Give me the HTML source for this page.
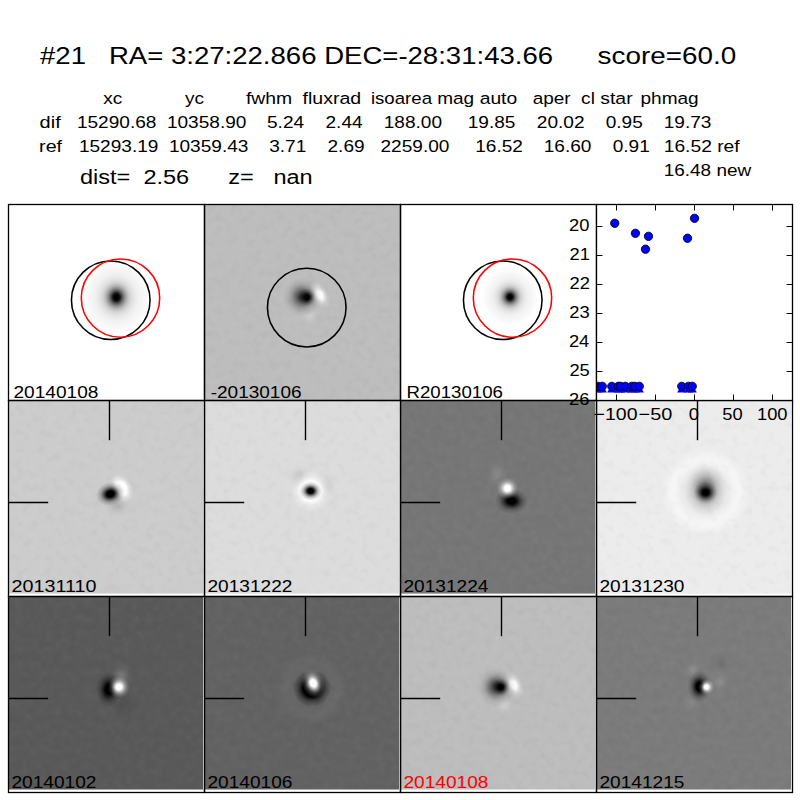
<!DOCTYPE html>
<html><head><meta charset="utf-8"><title>candidate 21</title><style>html,body{margin:0;padding:0;background:#fff;font-family:"Liberation Sans",sans-serif}svg{display:block}svg text{font-family:"Liberation Sans",sans-serif;pointer-events:none}</style></head><body><svg width="800" height="800" viewBox="0 0 800 800"><defs><radialGradient id="gk"><stop offset="0.000" stop-color="#000" stop-opacity="1.000"/><stop offset="0.062" stop-color="#000" stop-opacity="0.984"/><stop offset="0.125" stop-color="#000" stop-opacity="0.938"/><stop offset="0.188" stop-color="#000" stop-opacity="0.866"/><stop offset="0.250" stop-color="#000" stop-opacity="0.775"/><stop offset="0.312" stop-color="#000" stop-opacity="0.671"/><stop offset="0.375" stop-color="#000" stop-opacity="0.563"/><stop offset="0.438" stop-color="#000" stop-opacity="0.458"/><stop offset="0.500" stop-color="#000" stop-opacity="0.360"/><stop offset="0.562" stop-color="#000" stop-opacity="0.275"/><stop offset="0.625" stop-color="#000" stop-opacity="0.203"/><stop offset="0.688" stop-color="#000" stop-opacity="0.145"/><stop offset="0.750" stop-color="#000" stop-opacity="0.101"/><stop offset="0.812" stop-color="#000" stop-opacity="0.068"/><stop offset="0.875" stop-color="#000" stop-opacity="0.044"/><stop offset="0.938" stop-color="#000" stop-opacity="0.028"/><stop offset="1.000" stop-color="#000" stop-opacity="0.000"/></radialGradient><radialGradient id="gw"><stop offset="0.000" stop-color="#fff" stop-opacity="1.000"/><stop offset="0.062" stop-color="#fff" stop-opacity="0.984"/><stop offset="0.125" stop-color="#fff" stop-opacity="0.938"/><stop offset="0.188" stop-color="#fff" stop-opacity="0.866"/><stop offset="0.250" stop-color="#fff" stop-opacity="0.775"/><stop offset="0.312" stop-color="#fff" stop-opacity="0.671"/><stop offset="0.375" stop-color="#fff" stop-opacity="0.563"/><stop offset="0.438" stop-color="#fff" stop-opacity="0.458"/><stop offset="0.500" stop-color="#fff" stop-opacity="0.360"/><stop offset="0.562" stop-color="#fff" stop-opacity="0.275"/><stop offset="0.625" stop-color="#fff" stop-opacity="0.203"/><stop offset="0.688" stop-color="#fff" stop-opacity="0.145"/><stop offset="0.750" stop-color="#fff" stop-opacity="0.101"/><stop offset="0.812" stop-color="#fff" stop-opacity="0.068"/><stop offset="0.875" stop-color="#fff" stop-opacity="0.044"/><stop offset="0.938" stop-color="#fff" stop-opacity="0.028"/><stop offset="1.000" stop-color="#fff" stop-opacity="0.000"/></radialGradient><radialGradient id="sk"><stop offset="0.000" stop-color="#000" stop-opacity="1.000"/><stop offset="0.062" stop-color="#000" stop-opacity="1.000"/><stop offset="0.125" stop-color="#000" stop-opacity="1.000"/><stop offset="0.188" stop-color="#000" stop-opacity="1.000"/><stop offset="0.250" stop-color="#000" stop-opacity="1.000"/><stop offset="0.312" stop-color="#000" stop-opacity="0.891"/><stop offset="0.375" stop-color="#000" stop-opacity="0.768"/><stop offset="0.438" stop-color="#000" stop-opacity="0.644"/><stop offset="0.500" stop-color="#000" stop-opacity="0.526"/><stop offset="0.562" stop-color="#000" stop-opacity="0.418"/><stop offset="0.625" stop-color="#000" stop-opacity="0.323"/><stop offset="0.688" stop-color="#000" stop-opacity="0.243"/><stop offset="0.750" stop-color="#000" stop-opacity="0.178"/><stop offset="0.812" stop-color="#000" stop-opacity="0.127"/><stop offset="0.875" stop-color="#000" stop-opacity="0.088"/><stop offset="0.938" stop-color="#000" stop-opacity="0.060"/><stop offset="1.000" stop-color="#000" stop-opacity="0.000"/></radialGradient><radialGradient id="sw"><stop offset="0.000" stop-color="#fff" stop-opacity="1.000"/><stop offset="0.062" stop-color="#fff" stop-opacity="1.000"/><stop offset="0.125" stop-color="#fff" stop-opacity="1.000"/><stop offset="0.188" stop-color="#fff" stop-opacity="1.000"/><stop offset="0.250" stop-color="#fff" stop-opacity="1.000"/><stop offset="0.312" stop-color="#fff" stop-opacity="0.891"/><stop offset="0.375" stop-color="#fff" stop-opacity="0.768"/><stop offset="0.438" stop-color="#fff" stop-opacity="0.644"/><stop offset="0.500" stop-color="#fff" stop-opacity="0.526"/><stop offset="0.562" stop-color="#fff" stop-opacity="0.418"/><stop offset="0.625" stop-color="#fff" stop-opacity="0.323"/><stop offset="0.688" stop-color="#fff" stop-opacity="0.243"/><stop offset="0.750" stop-color="#fff" stop-opacity="0.178"/><stop offset="0.812" stop-color="#fff" stop-opacity="0.127"/><stop offset="0.875" stop-color="#fff" stop-opacity="0.088"/><stop offset="0.938" stop-color="#fff" stop-opacity="0.060"/><stop offset="1.000" stop-color="#fff" stop-opacity="0.000"/></radialGradient><radialGradient id="fk"><stop offset="0.000" stop-color="#000" stop-opacity="1.000"/><stop offset="0.062" stop-color="#000" stop-opacity="1.000"/><stop offset="0.125" stop-color="#000" stop-opacity="1.000"/><stop offset="0.188" stop-color="#000" stop-opacity="1.000"/><stop offset="0.250" stop-color="#000" stop-opacity="1.000"/><stop offset="0.312" stop-color="#000" stop-opacity="1.000"/><stop offset="0.375" stop-color="#000" stop-opacity="1.000"/><stop offset="0.438" stop-color="#000" stop-opacity="1.000"/><stop offset="0.500" stop-color="#000" stop-opacity="0.926"/><stop offset="0.562" stop-color="#000" stop-opacity="0.736"/><stop offset="0.625" stop-color="#000" stop-opacity="0.569"/><stop offset="0.688" stop-color="#000" stop-opacity="0.428"/><stop offset="0.750" stop-color="#000" stop-opacity="0.314"/><stop offset="0.812" stop-color="#000" stop-opacity="0.224"/><stop offset="0.875" stop-color="#000" stop-opacity="0.155"/><stop offset="0.938" stop-color="#000" stop-opacity="0.105"/><stop offset="1.000" stop-color="#000" stop-opacity="0.000"/></radialGradient><radialGradient id="fw"><stop offset="0.000" stop-color="#fff" stop-opacity="1.000"/><stop offset="0.062" stop-color="#fff" stop-opacity="1.000"/><stop offset="0.125" stop-color="#fff" stop-opacity="1.000"/><stop offset="0.188" stop-color="#fff" stop-opacity="1.000"/><stop offset="0.250" stop-color="#fff" stop-opacity="1.000"/><stop offset="0.312" stop-color="#fff" stop-opacity="1.000"/><stop offset="0.375" stop-color="#fff" stop-opacity="1.000"/><stop offset="0.438" stop-color="#fff" stop-opacity="1.000"/><stop offset="0.500" stop-color="#fff" stop-opacity="0.926"/><stop offset="0.562" stop-color="#fff" stop-opacity="0.736"/><stop offset="0.625" stop-color="#fff" stop-opacity="0.569"/><stop offset="0.688" stop-color="#fff" stop-opacity="0.428"/><stop offset="0.750" stop-color="#fff" stop-opacity="0.314"/><stop offset="0.812" stop-color="#fff" stop-opacity="0.224"/><stop offset="0.875" stop-color="#fff" stop-opacity="0.155"/><stop offset="0.938" stop-color="#fff" stop-opacity="0.105"/><stop offset="1.000" stop-color="#fff" stop-opacity="0.000"/></radialGradient><radialGradient id="galk"><stop offset="0.000" stop-color="#000" stop-opacity="1.000"/><stop offset="0.042" stop-color="#000" stop-opacity="1.000"/><stop offset="0.083" stop-color="#000" stop-opacity="0.970"/><stop offset="0.125" stop-color="#000" stop-opacity="0.850"/><stop offset="0.167" stop-color="#000" stop-opacity="0.680"/><stop offset="0.208" stop-color="#000" stop-opacity="0.545"/><stop offset="0.250" stop-color="#000" stop-opacity="0.430"/><stop offset="0.292" stop-color="#000" stop-opacity="0.335"/><stop offset="0.333" stop-color="#000" stop-opacity="0.260"/><stop offset="0.375" stop-color="#000" stop-opacity="0.200"/><stop offset="0.417" stop-color="#000" stop-opacity="0.160"/><stop offset="0.458" stop-color="#000" stop-opacity="0.130"/><stop offset="0.500" stop-color="#000" stop-opacity="0.107"/><stop offset="0.542" stop-color="#000" stop-opacity="0.087"/><stop offset="0.583" stop-color="#000" stop-opacity="0.072"/><stop offset="0.625" stop-color="#000" stop-opacity="0.061"/><stop offset="0.667" stop-color="#000" stop-opacity="0.050"/><stop offset="0.708" stop-color="#000" stop-opacity="0.044"/><stop offset="0.750" stop-color="#000" stop-opacity="0.039"/><stop offset="0.792" stop-color="#000" stop-opacity="0.034"/><stop offset="0.833" stop-color="#000" stop-opacity="0.028"/><stop offset="0.875" stop-color="#000" stop-opacity="0.021"/><stop offset="0.917" stop-color="#000" stop-opacity="0.014"/><stop offset="0.958" stop-color="#000" stop-opacity="0.007"/><stop offset="1.000" stop-color="#000" stop-opacity="0.000"/></radialGradient><radialGradient id="galw"><stop offset="0.000" stop-color="#fff" stop-opacity="1.000"/><stop offset="0.042" stop-color="#fff" stop-opacity="1.000"/><stop offset="0.083" stop-color="#fff" stop-opacity="0.970"/><stop offset="0.125" stop-color="#fff" stop-opacity="0.850"/><stop offset="0.167" stop-color="#fff" stop-opacity="0.680"/><stop offset="0.208" stop-color="#fff" stop-opacity="0.545"/><stop offset="0.250" stop-color="#fff" stop-opacity="0.430"/><stop offset="0.292" stop-color="#fff" stop-opacity="0.335"/><stop offset="0.333" stop-color="#fff" stop-opacity="0.260"/><stop offset="0.375" stop-color="#fff" stop-opacity="0.200"/><stop offset="0.417" stop-color="#fff" stop-opacity="0.160"/><stop offset="0.458" stop-color="#fff" stop-opacity="0.130"/><stop offset="0.500" stop-color="#fff" stop-opacity="0.107"/><stop offset="0.542" stop-color="#fff" stop-opacity="0.087"/><stop offset="0.583" stop-color="#fff" stop-opacity="0.072"/><stop offset="0.625" stop-color="#fff" stop-opacity="0.061"/><stop offset="0.667" stop-color="#fff" stop-opacity="0.050"/><stop offset="0.708" stop-color="#fff" stop-opacity="0.044"/><stop offset="0.750" stop-color="#fff" stop-opacity="0.039"/><stop offset="0.792" stop-color="#fff" stop-opacity="0.034"/><stop offset="0.833" stop-color="#fff" stop-opacity="0.028"/><stop offset="0.875" stop-color="#fff" stop-opacity="0.021"/><stop offset="0.917" stop-color="#fff" stop-opacity="0.014"/><stop offset="0.958" stop-color="#fff" stop-opacity="0.007"/><stop offset="1.000" stop-color="#fff" stop-opacity="0.000"/></radialGradient><radialGradient id="ringk"><stop offset="0.000" stop-color="#000" stop-opacity="0.000"/><stop offset="0.042" stop-color="#000" stop-opacity="0.000"/><stop offset="0.083" stop-color="#000" stop-opacity="0.000"/><stop offset="0.125" stop-color="#000" stop-opacity="0.000"/><stop offset="0.167" stop-color="#000" stop-opacity="0.000"/><stop offset="0.208" stop-color="#000" stop-opacity="0.000"/><stop offset="0.250" stop-color="#000" stop-opacity="0.001"/><stop offset="0.292" stop-color="#000" stop-opacity="0.004"/><stop offset="0.333" stop-color="#000" stop-opacity="0.012"/><stop offset="0.375" stop-color="#000" stop-opacity="0.030"/><stop offset="0.417" stop-color="#000" stop-opacity="0.066"/><stop offset="0.458" stop-color="#000" stop-opacity="0.132"/><stop offset="0.500" stop-color="#000" stop-opacity="0.239"/><stop offset="0.542" stop-color="#000" stop-opacity="0.390"/><stop offset="0.583" stop-color="#000" stop-opacity="0.575"/><stop offset="0.625" stop-color="#000" stop-opacity="0.766"/><stop offset="0.667" stop-color="#000" stop-opacity="0.919"/><stop offset="0.708" stop-color="#000" stop-opacity="0.996"/><stop offset="0.750" stop-color="#000" stop-opacity="0.974"/><stop offset="0.792" stop-color="#000" stop-opacity="0.859"/><stop offset="0.833" stop-color="#000" stop-opacity="0.684"/><stop offset="0.875" stop-color="#000" stop-opacity="0.491"/><stop offset="0.917" stop-color="#000" stop-opacity="0.318"/><stop offset="0.958" stop-color="#000" stop-opacity="0.186"/><stop offset="1.000" stop-color="#000" stop-opacity="0.000"/></radialGradient><radialGradient id="ringw"><stop offset="0.000" stop-color="#fff" stop-opacity="0.000"/><stop offset="0.042" stop-color="#fff" stop-opacity="0.000"/><stop offset="0.083" stop-color="#fff" stop-opacity="0.000"/><stop offset="0.125" stop-color="#fff" stop-opacity="0.000"/><stop offset="0.167" stop-color="#fff" stop-opacity="0.000"/><stop offset="0.208" stop-color="#fff" stop-opacity="0.000"/><stop offset="0.250" stop-color="#fff" stop-opacity="0.001"/><stop offset="0.292" stop-color="#fff" stop-opacity="0.004"/><stop offset="0.333" stop-color="#fff" stop-opacity="0.012"/><stop offset="0.375" stop-color="#fff" stop-opacity="0.030"/><stop offset="0.417" stop-color="#fff" stop-opacity="0.066"/><stop offset="0.458" stop-color="#fff" stop-opacity="0.132"/><stop offset="0.500" stop-color="#fff" stop-opacity="0.239"/><stop offset="0.542" stop-color="#fff" stop-opacity="0.390"/><stop offset="0.583" stop-color="#fff" stop-opacity="0.575"/><stop offset="0.625" stop-color="#fff" stop-opacity="0.766"/><stop offset="0.667" stop-color="#fff" stop-opacity="0.919"/><stop offset="0.708" stop-color="#fff" stop-opacity="0.996"/><stop offset="0.750" stop-color="#fff" stop-opacity="0.974"/><stop offset="0.792" stop-color="#fff" stop-opacity="0.859"/><stop offset="0.833" stop-color="#fff" stop-opacity="0.684"/><stop offset="0.875" stop-color="#fff" stop-opacity="0.491"/><stop offset="0.917" stop-color="#fff" stop-opacity="0.318"/><stop offset="0.958" stop-color="#fff" stop-opacity="0.186"/><stop offset="1.000" stop-color="#fff" stop-opacity="0.000"/></radialGradient><clipPath id="c00"><rect x="8.50" y="204.50" width="196.00" height="195.60"/></clipPath><clipPath id="c01"><rect x="204.50" y="204.50" width="196.00" height="195.60"/></clipPath><clipPath id="c02"><rect x="400.50" y="204.50" width="196.00" height="195.60"/></clipPath><clipPath id="c10"><rect x="8.50" y="400.50" width="194.60" height="193.30"/></clipPath><clipPath id="c11"><rect x="204.50" y="400.50" width="194.60" height="193.30"/></clipPath><clipPath id="c12"><rect x="400.50" y="400.50" width="194.60" height="193.30"/></clipPath><clipPath id="c13"><rect x="596.50" y="400.50" width="194.60" height="193.30"/></clipPath><clipPath id="c20"><rect x="8.50" y="596.50" width="194.60" height="193.20"/></clipPath><clipPath id="c21"><rect x="204.50" y="596.50" width="194.60" height="193.20"/></clipPath><clipPath id="c22"><rect x="400.50" y="596.50" width="194.60" height="193.20"/></clipPath><clipPath id="c23"><rect x="596.50" y="596.50" width="194.60" height="193.20"/></clipPath><filter id="nzw" x="0" y="0" width="100%" height="100%" color-interpolation-filters="sRGB"><feTurbulence type="fractalNoise" baseFrequency="0.13" numOctaves="2" seed="7"/><feColorMatrix type="matrix" values="0 0 0 0 1  0 0 0 0 1  0 0 0 0 1  0.08 0 0 0 -0.04"/></filter><filter id="nzk" x="0" y="0" width="100%" height="100%" color-interpolation-filters="sRGB"><feTurbulence type="fractalNoise" baseFrequency="0.13" numOctaves="2" seed="7"/><feColorMatrix type="matrix" values="0 0 0 0 0  0 0 0 0 0  0 0 0 0 0  -0.08 0 0 0 0.04"/></filter><clipPath id="cs"><rect x="596.50" y="204.50" width="196" height="196"/></clipPath></defs><text x="40.0" y="63.8" font-size="24.0" fill="#000" xml:space="preserve" textLength="513.1" lengthAdjust="spacingAndGlyphs">#21   RA= 3:27:22.866 DEC=-28:31:43.66</text>
<text x="597.6" y="63.8" font-size="24.0" fill="#000" textLength="138.6" lengthAdjust="spacingAndGlyphs">score=60.0</text>
<text x="103.3" y="103.7" font-size="16.7" fill="#000" textLength="19.0" lengthAdjust="spacingAndGlyphs">xc</text>
<text x="185.0" y="103.7" font-size="16.7" fill="#000" textLength="19.0" lengthAdjust="spacingAndGlyphs">yc</text>
<text x="245.9" y="103.7" font-size="16.7" fill="#000" textLength="46.3" lengthAdjust="spacingAndGlyphs">fwhm</text>
<text x="302.6" y="103.7" font-size="16.7" fill="#000" textLength="58.6" lengthAdjust="spacingAndGlyphs">fluxrad</text>
<text x="370.9" y="103.7" font-size="16.7" fill="#000" textLength="61.1" lengthAdjust="spacingAndGlyphs">isoarea</text>
<text x="437.2" y="103.7" font-size="16.7" fill="#000" textLength="37.0" lengthAdjust="spacingAndGlyphs">mag</text>
<text x="479.7" y="103.7" font-size="16.7" fill="#000" textLength="37.5" lengthAdjust="spacingAndGlyphs">auto</text>
<text x="532.7" y="103.7" font-size="16.7" fill="#000" textLength="37.9" lengthAdjust="spacingAndGlyphs">aper</text>
<text x="581.1" y="103.7" font-size="16.7" fill="#000" textLength="13.8" lengthAdjust="spacingAndGlyphs">cl</text>
<text x="600.3" y="103.7" font-size="16.7" fill="#000" textLength="32.3" lengthAdjust="spacingAndGlyphs">star</text>
<text x="640.5" y="103.7" font-size="16.7" fill="#000" textLength="58.2" lengthAdjust="spacingAndGlyphs">phmag</text>
<text x="39.6" y="127.7" font-size="16.7" fill="#000" textLength="21.1" lengthAdjust="spacingAndGlyphs">dif</text>
<text x="76.9" y="127.7" font-size="16.7" fill="#000" textLength="79.5" lengthAdjust="spacingAndGlyphs">15290.68</text>
<text x="166.9" y="127.7" font-size="16.7" fill="#000" textLength="79.5" lengthAdjust="spacingAndGlyphs">10358.90</text>
<text x="267.0" y="127.7" font-size="16.7" fill="#000" textLength="37.1" lengthAdjust="spacingAndGlyphs">5.24</text>
<text x="325.5" y="127.7" font-size="16.7" fill="#000" textLength="37.1" lengthAdjust="spacingAndGlyphs">2.44</text>
<text x="383.7" y="127.7" font-size="16.7" fill="#000" textLength="58.3" lengthAdjust="spacingAndGlyphs">188.00</text>
<text x="467.7" y="127.7" font-size="16.7" fill="#000" textLength="47.7" lengthAdjust="spacingAndGlyphs">19.85</text>
<text x="536.8" y="127.7" font-size="16.7" fill="#000" textLength="47.7" lengthAdjust="spacingAndGlyphs">20.02</text>
<text x="605.7" y="127.7" font-size="16.7" fill="#000" textLength="37.1" lengthAdjust="spacingAndGlyphs">0.95</text>
<text x="663.7" y="127.7" font-size="16.7" fill="#000" textLength="47.7" lengthAdjust="spacingAndGlyphs">19.73</text>
<text x="39.1" y="151.6" font-size="16.7" fill="#000" textLength="23.0" lengthAdjust="spacingAndGlyphs">ref</text>
<text x="78.9" y="151.6" font-size="16.7" fill="#000" textLength="79.5" lengthAdjust="spacingAndGlyphs">15293.19</text>
<text x="168.9" y="151.6" font-size="16.7" fill="#000" textLength="79.5" lengthAdjust="spacingAndGlyphs">10359.43</text>
<text x="269.2" y="151.6" font-size="16.7" fill="#000" textLength="37.1" lengthAdjust="spacingAndGlyphs">3.71</text>
<text x="327.5" y="151.6" font-size="16.7" fill="#000" textLength="37.1" lengthAdjust="spacingAndGlyphs">2.69</text>
<text x="380.5" y="151.6" font-size="16.7" fill="#000" textLength="68.9" lengthAdjust="spacingAndGlyphs">2259.00</text>
<text x="475.2" y="151.6" font-size="16.7" fill="#000" textLength="47.7" lengthAdjust="spacingAndGlyphs">16.52</text>
<text x="543.7" y="151.6" font-size="16.7" fill="#000" textLength="47.7" lengthAdjust="spacingAndGlyphs">16.60</text>
<text x="612.7" y="151.6" font-size="16.7" fill="#000" textLength="37.1" lengthAdjust="spacingAndGlyphs">0.91</text>
<text x="663.7" y="151.6" font-size="16.7" fill="#000" textLength="76.0" lengthAdjust="spacingAndGlyphs">16.52 ref</text>
<text x="663.7" y="175.5" font-size="16.7" fill="#000" textLength="87.5" lengthAdjust="spacingAndGlyphs">16.48 new</text>
<text x="80.0" y="184.0" font-size="20.0" fill="#000" xml:space="preserve" textLength="232.7" lengthAdjust="spacingAndGlyphs">dist=  2.56      z=   nan</text>
<g clip-path="url(#c00)"><rect x="8.50" y="204.50" width="196.00" height="195.60" fill="#ffffff"/><ellipse cx="116.4" cy="297.2" rx="34.0" ry="37.0" fill="url(#galk)" opacity="1.0"/></g>
<g clip-path="url(#c01)"><rect x="204.50" y="204.50" width="196.00" height="195.60" fill="#bdbdbd"/><ellipse cx="310.0" cy="316.0" rx="12.1" ry="10.9" fill="url(#gw)" opacity="0.22"/><ellipse cx="319.7" cy="294.8" rx="8.8" ry="14.6" fill="url(#sw)" opacity="1.0" transform="rotate(-31 319.7 294.8)"/><ellipse cx="302.5" cy="297.0" rx="19.4" ry="19.4" fill="url(#gk)" opacity="0.75"/><ellipse cx="306.8" cy="297.2" rx="8.8" ry="8.8" fill="url(#sk)" opacity="1.0"/></g>
<g clip-path="url(#c02)"><rect x="400.50" y="204.50" width="196.00" height="195.60" fill="#ffffff"/><ellipse cx="510.0" cy="297.0" rx="28.0" ry="29.0" fill="url(#galk)" opacity="1.0"/></g>
<g clip-path="url(#c10)"><rect x="8.50" y="400.50" width="194.60" height="193.30" fill="#cccccc"/><ellipse cx="117.5" cy="506.0" rx="14.6" ry="12.1" fill="url(#gk)" opacity="0.12"/><ellipse cx="121.4" cy="488.0" rx="10.2" ry="15.3" fill="url(#fw)" opacity="1.0" transform="rotate(-30 121.4 488.0)"/><ellipse cx="110.3" cy="494.0" rx="14.4" ry="11.7" fill="url(#sk)" opacity="1.0" transform="rotate(-15 110.3 494.0)"/></g>
<g clip-path="url(#c11)"><rect x="204.50" y="400.50" width="194.60" height="193.30" fill="#dcdcdc"/><ellipse cx="300.0" cy="477.0" rx="14.6" ry="14.6" fill="url(#gk)" opacity="0.1"/><ellipse cx="326.0" cy="485.0" rx="12.1" ry="17.0" fill="url(#gk)" opacity="0.08"/><ellipse cx="310.6" cy="491.0" rx="20.6" ry="20.6" fill="url(#fw)" opacity="0.97"/><ellipse cx="310.6" cy="491.0" rx="10.9" ry="9.3" fill="url(#sk)" opacity="1.0"/></g>
<g clip-path="url(#c12)"><rect x="400.50" y="400.50" width="194.60" height="193.30" fill="#767676"/><ellipse cx="497.0" cy="474.5" rx="12.1" ry="17.0" fill="url(#gw)" opacity="0.12"/><ellipse cx="511.5" cy="501.0" rx="16.5" ry="12.6" fill="url(#sk)" opacity="1.0"/><ellipse cx="507.4" cy="488.3" rx="10.7" ry="10.7" fill="url(#sw)" opacity="1.0"/></g>
<g clip-path="url(#c13)"><rect x="596.50" y="400.50" width="194.60" height="193.30" fill="#ececec"/><ellipse cx="705.5" cy="492.0" rx="44.0" ry="44.0" fill="url(#ringw)" opacity="0.55"/><ellipse cx="705.5" cy="490.0" rx="34.0" ry="36.4" fill="url(#gk)" opacity="0.12"/><ellipse cx="705.5" cy="489.3" rx="20.6" ry="25.5" fill="url(#gk)" opacity="0.55"/><ellipse cx="705.5" cy="492.5" rx="11.7" ry="10.7" fill="url(#sk)" opacity="1.0"/></g>
<g clip-path="url(#c20)"><rect x="8.50" y="596.50" width="194.60" height="193.20" fill="#595959"/><ellipse cx="121.5" cy="676.0" rx="12.1" ry="14.6" fill="url(#gw)" opacity="0.18"/><ellipse cx="124.0" cy="705.0" rx="19.4" ry="19.4" fill="url(#gk)" opacity="0.1"/><ellipse cx="108.5" cy="689.3" rx="12.6" ry="17.5" fill="url(#sk)" opacity="1.0"/><ellipse cx="118.9" cy="687.0" rx="10.7" ry="10.7" fill="url(#sw)" opacity="1.0"/></g>
<g clip-path="url(#c21)"><rect x="204.50" y="596.50" width="194.60" height="193.20" fill="#626262"/><ellipse cx="311.5" cy="689.0" rx="36.0" ry="36.0" fill="url(#ringw)" opacity="0.04"/><ellipse cx="311.8" cy="688.3" rx="18.8" ry="18.3" fill="url(#fk)" opacity="1.0"/><ellipse cx="313.3" cy="683.2" rx="10.9" ry="14.4" fill="url(#sw)" opacity="1.0" transform="rotate(-20 313.3 683.2)"/></g>
<g clip-path="url(#c22)"><rect x="400.50" y="596.50" width="194.60" height="193.20" fill="#bdbdbd"/><ellipse cx="504.0" cy="705.9" rx="12.1" ry="10.9" fill="url(#gw)" opacity="0.22"/><ellipse cx="513.7" cy="684.7" rx="8.8" ry="14.6" fill="url(#sw)" opacity="1.0" transform="rotate(-31 513.7 684.7)"/><ellipse cx="496.5" cy="686.9" rx="19.4" ry="19.4" fill="url(#gk)" opacity="0.75"/><ellipse cx="500.8" cy="687.1" rx="8.8" ry="8.8" fill="url(#sk)" opacity="1.0"/></g>
<g clip-path="url(#c23)"><rect x="596.50" y="596.50" width="194.60" height="193.20" fill="#7b7b7b"/><ellipse cx="693.0" cy="670.0" rx="9.7" ry="9.7" fill="url(#gw)" opacity="0.15"/><ellipse cx="720.0" cy="682.0" rx="10.9" ry="14.6" fill="url(#gw)" opacity="0.12"/><ellipse cx="691.0" cy="703.0" rx="12.1" ry="12.1" fill="url(#gw)" opacity="0.08"/><ellipse cx="721.0" cy="663.0" rx="12.1" ry="12.1" fill="url(#gk)" opacity="0.08"/><ellipse cx="699.3" cy="686.5" rx="11.7" ry="15.6" fill="url(#sk)" opacity="1.0"/><ellipse cx="706.5" cy="687.0" rx="7.8" ry="7.8" fill="url(#sw)" opacity="1.0"/></g>
<rect x="204.50" y="204.50" width="196.00" height="195.60" filter="url(#nzw)"/><rect x="204.50" y="204.50" width="196.00" height="195.60" filter="url(#nzk)"/><rect x="8.50" y="400.50" width="194.60" height="193.30" filter="url(#nzw)"/><rect x="8.50" y="400.50" width="194.60" height="193.30" filter="url(#nzk)"/><rect x="204.50" y="400.50" width="194.60" height="193.30" filter="url(#nzw)"/><rect x="204.50" y="400.50" width="194.60" height="193.30" filter="url(#nzk)"/><rect x="400.50" y="400.50" width="194.60" height="193.30" filter="url(#nzw)"/><rect x="400.50" y="400.50" width="194.60" height="193.30" filter="url(#nzk)"/><rect x="596.50" y="400.50" width="194.60" height="193.30" filter="url(#nzw)"/><rect x="596.50" y="400.50" width="194.60" height="193.30" filter="url(#nzk)"/><rect x="8.50" y="596.50" width="194.60" height="193.20" filter="url(#nzw)"/><rect x="8.50" y="596.50" width="194.60" height="193.20" filter="url(#nzk)"/><rect x="204.50" y="596.50" width="194.60" height="193.20" filter="url(#nzw)"/><rect x="204.50" y="596.50" width="194.60" height="193.20" filter="url(#nzk)"/><rect x="400.50" y="596.50" width="194.60" height="193.20" filter="url(#nzw)"/><rect x="400.50" y="596.50" width="194.60" height="193.20" filter="url(#nzk)"/><rect x="596.50" y="596.50" width="194.60" height="193.20" filter="url(#nzw)"/><rect x="596.50" y="596.50" width="194.60" height="193.20" filter="url(#nzk)"/>
<g fill="none" stroke-width="1.55">
<circle cx="110.75" cy="300.2" r="39.3" stroke="#000"/>
<circle cx="120.5" cy="298.1" r="39.2" stroke="#f00"/>
<circle cx="306.75" cy="307.6" r="39.3" stroke="#000"/>
<circle cx="502.75" cy="300.2" r="39.3" stroke="#000"/>
<circle cx="512.5" cy="298.1" r="39.2" stroke="#f00"/>
</g>
<g stroke="#000" stroke-width="1.40"><line x1="109.50" y1="400.50" x2="109.50" y2="440.20"/><line x1="8.50" y1="502.50" x2="48.20" y2="502.50"/><line x1="305.50" y1="400.50" x2="305.50" y2="440.20"/><line x1="204.50" y1="502.50" x2="244.20" y2="502.50"/><line x1="501.50" y1="400.50" x2="501.50" y2="440.20"/><line x1="400.50" y1="502.50" x2="440.20" y2="502.50"/><line x1="697.50" y1="400.50" x2="697.50" y2="440.20"/><line x1="596.50" y1="502.50" x2="636.20" y2="502.50"/><line x1="109.50" y1="596.50" x2="109.50" y2="636.20"/><line x1="8.50" y1="698.50" x2="48.20" y2="698.50"/><line x1="305.50" y1="596.50" x2="305.50" y2="636.20"/><line x1="204.50" y1="698.50" x2="244.20" y2="698.50"/><line x1="501.50" y1="596.50" x2="501.50" y2="636.20"/><line x1="400.50" y1="698.50" x2="440.20" y2="698.50"/><line x1="697.50" y1="596.50" x2="697.50" y2="636.20"/><line x1="596.50" y1="698.50" x2="636.20" y2="698.50"/></g>
<g fill="none" stroke="#000" stroke-width="1.30"><rect x="8.50" y="204.50" width="196" height="196"/><rect x="204.50" y="204.50" width="196" height="196"/><rect x="400.50" y="204.50" width="196" height="196"/><rect x="8.50" y="400.50" width="196" height="196"/><rect x="204.50" y="400.50" width="196" height="196"/><rect x="400.50" y="400.50" width="196" height="196"/><rect x="596.50" y="400.50" width="196" height="196"/><rect x="8.50" y="596.50" width="196" height="196"/><rect x="204.50" y="596.50" width="196" height="196"/><rect x="400.50" y="596.50" width="196" height="196"/><rect x="596.50" y="596.50" width="196" height="196"/></g>
<text x="13.5" y="397.6" font-size="16.7" fill="#000" textLength="84.9" lengthAdjust="spacingAndGlyphs">20140108</text>
<text x="210.7" y="397.6" font-size="16.7" fill="#000" textLength="90.9" lengthAdjust="spacingAndGlyphs">-20130106</text>
<text x="406.5" y="397.6" font-size="16.7" fill="#000" textLength="96.4" lengthAdjust="spacingAndGlyphs">R20130106</text>
<text x="11.5" y="591.6" font-size="16.7" fill="#000" textLength="84.9" lengthAdjust="spacingAndGlyphs">20131110</text>
<text x="207.5" y="591.6" font-size="16.7" fill="#000" textLength="84.9" lengthAdjust="spacingAndGlyphs">20131222</text>
<text x="403.5" y="591.6" font-size="16.7" fill="#000" textLength="84.9" lengthAdjust="spacingAndGlyphs">20131224</text>
<text x="599.5" y="591.6" font-size="16.7" fill="#000" textLength="84.9" lengthAdjust="spacingAndGlyphs">20131230</text>
<text x="11.5" y="787.6" font-size="16.7" fill="#000" textLength="84.9" lengthAdjust="spacingAndGlyphs">20140102</text>
<text x="207.5" y="787.6" font-size="16.7" fill="#000" textLength="84.9" lengthAdjust="spacingAndGlyphs">20140106</text>
<text x="403.5" y="787.6" font-size="16.7" fill="#ff0000" textLength="84.9" lengthAdjust="spacingAndGlyphs">20140108</text>
<text x="599.5" y="787.6" font-size="16.7" fill="#000" textLength="84.9" lengthAdjust="spacingAndGlyphs">20141215</text>
<rect x="596.50" y="204.50" width="196" height="196" fill="#fff"/><g clip-path="url(#cs)"><path d="M598.00 384.20 l4.6 8.3 h-9.2z" fill="#00f"/><path d="M602.25 384.20 l4.6 8.3 h-9.2z" fill="#00f"/><path d="M611.80 384.20 l4.6 8.3 h-9.2z" fill="#00f"/><path d="M618.30 384.20 l4.6 8.3 h-9.2z" fill="#00f"/><path d="M620.40 384.20 l4.6 8.3 h-9.2z" fill="#00f"/><path d="M625.40 384.20 l4.6 8.3 h-9.2z" fill="#00f"/><path d="M631.80 384.20 l4.6 8.3 h-9.2z" fill="#00f"/><path d="M634.80 384.20 l4.6 8.3 h-9.2z" fill="#00f"/><path d="M639.30 384.20 l4.6 8.3 h-9.2z" fill="#00f"/><path d="M681.75 384.20 l4.6 8.3 h-9.2z" fill="#00f"/><path d="M688.50 384.20 l4.6 8.3 h-9.2z" fill="#00f"/><path d="M692.25 384.20 l4.6 8.3 h-9.2z" fill="#00f"/><circle cx="598.00" cy="386.35" r="4.17" fill="#00f" stroke="#000" stroke-width="0.85"/><circle cx="602.25" cy="386.35" r="4.17" fill="#00f" stroke="#000" stroke-width="0.85"/><circle cx="611.80" cy="386.35" r="4.17" fill="#00f" stroke="#000" stroke-width="0.85"/><circle cx="618.30" cy="386.35" r="4.17" fill="#00f" stroke="#000" stroke-width="0.85"/><circle cx="620.40" cy="386.35" r="4.17" fill="#00f" stroke="#000" stroke-width="0.85"/><circle cx="625.40" cy="386.35" r="4.17" fill="#00f" stroke="#000" stroke-width="0.85"/><circle cx="631.80" cy="386.35" r="4.17" fill="#00f" stroke="#000" stroke-width="0.85"/><circle cx="634.80" cy="386.35" r="4.17" fill="#00f" stroke="#000" stroke-width="0.85"/><circle cx="639.30" cy="386.35" r="4.17" fill="#00f" stroke="#000" stroke-width="0.85"/><circle cx="681.75" cy="386.35" r="4.17" fill="#00f" stroke="#000" stroke-width="0.85"/><circle cx="688.50" cy="386.35" r="4.17" fill="#00f" stroke="#000" stroke-width="0.85"/><circle cx="692.25" cy="386.35" r="4.17" fill="#00f" stroke="#000" stroke-width="0.85"/><circle cx="614.75" cy="223.25" r="4.17" fill="#00f" stroke="#000" stroke-width="0.85"/><circle cx="635.45" cy="233.30" r="4.17" fill="#00f" stroke="#000" stroke-width="0.85"/><circle cx="648.50" cy="236.30" r="4.17" fill="#00f" stroke="#000" stroke-width="0.85"/><circle cx="645.50" cy="249.20" r="4.17" fill="#00f" stroke="#000" stroke-width="0.85"/><circle cx="687.50" cy="238.25" r="4.17" fill="#00f" stroke="#000" stroke-width="0.85"/><circle cx="694.55" cy="218.30" r="4.17" fill="#00f" stroke="#000" stroke-width="0.85"/></g><g stroke="#000" stroke-width="0.95"><line x1="616.50" y1="204.50" x2="616.50" y2="210.50"/><line x1="616.50" y1="400.50" x2="616.50" y2="394.50"/><line x1="655.50" y1="204.50" x2="655.50" y2="210.50"/><line x1="655.50" y1="400.50" x2="655.50" y2="394.50"/><line x1="694.50" y1="204.50" x2="694.50" y2="210.50"/><line x1="694.50" y1="400.50" x2="694.50" y2="394.50"/><line x1="733.50" y1="204.50" x2="733.50" y2="210.50"/><line x1="733.50" y1="400.50" x2="733.50" y2="394.50"/><line x1="772.50" y1="204.50" x2="772.50" y2="210.50"/><line x1="772.50" y1="400.50" x2="772.50" y2="394.50"/><line x1="596.50" y1="226.50" x2="602.50" y2="226.50"/><line x1="792.50" y1="226.50" x2="786.50" y2="226.50"/><line x1="596.50" y1="255.50" x2="602.50" y2="255.50"/><line x1="792.50" y1="255.50" x2="786.50" y2="255.50"/><line x1="596.50" y1="284.50" x2="602.50" y2="284.50"/><line x1="792.50" y1="284.50" x2="786.50" y2="284.50"/><line x1="596.50" y1="313.50" x2="602.50" y2="313.50"/><line x1="792.50" y1="313.50" x2="786.50" y2="313.50"/><line x1="596.50" y1="342.50" x2="602.50" y2="342.50"/><line x1="792.50" y1="342.50" x2="786.50" y2="342.50"/><line x1="596.50" y1="371.50" x2="602.50" y2="371.50"/><line x1="792.50" y1="371.50" x2="786.50" y2="371.50"/><line x1="596.50" y1="400.50" x2="602.50" y2="400.50"/><line x1="792.50" y1="400.50" x2="786.50" y2="400.50"/></g><rect x="596.50" y="204.50" width="196" height="196" fill="none" stroke="#000" stroke-width="1.30"/>
<text x="593.6" y="419.6" font-size="16.7" fill="#000" textLength="43.9" lengthAdjust="spacingAndGlyphs">−100</text>
<text x="638.6" y="419.6" font-size="16.7" fill="#000" textLength="33.8" lengthAdjust="spacingAndGlyphs">−50</text>
<text x="688.8" y="419.6" font-size="16.7" fill="#000" textLength="10.2" lengthAdjust="spacingAndGlyphs">0</text>
<text x="722.3" y="419.6" font-size="16.7" fill="#000" textLength="20.4" lengthAdjust="spacingAndGlyphs">50</text>
<text x="757.0" y="419.6" font-size="16.7" fill="#000" textLength="30.5" lengthAdjust="spacingAndGlyphs">100</text>
<text x="569.1" y="230.8" font-size="16.7" fill="#000" textLength="20.4" lengthAdjust="spacingAndGlyphs">20</text>
<text x="569.5" y="259.8" font-size="16.7" fill="#000" textLength="20.4" lengthAdjust="spacingAndGlyphs">21</text>
<text x="569.6" y="288.8" font-size="16.7" fill="#000" textLength="20.4" lengthAdjust="spacingAndGlyphs">22</text>
<text x="569.3" y="317.8" font-size="16.7" fill="#000" textLength="20.4" lengthAdjust="spacingAndGlyphs">23</text>
<text x="568.9" y="346.8" font-size="16.7" fill="#000" textLength="20.4" lengthAdjust="spacingAndGlyphs">24</text>
<text x="569.4" y="375.8" font-size="16.7" fill="#000" textLength="20.4" lengthAdjust="spacingAndGlyphs">25</text>
<text x="569.0" y="404.8" font-size="16.7" fill="#000" textLength="20.4" lengthAdjust="spacingAndGlyphs">26</text></svg></body></html>
